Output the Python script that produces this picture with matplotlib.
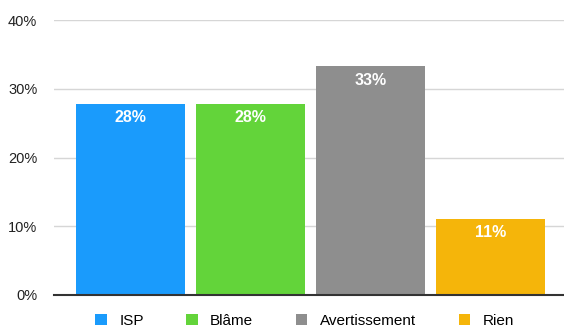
import matplotlib.pyplot as plt
import numpy as np

plt.rcParams['font.family'] = ['Liberation Sans', 'DejaVu Sans']

categories = ['ISP', 'Blâme', 'Avertissement', 'Rien']
values = [27.8, 27.8, 33.3, 11.1]
labels = ['28%', '28%', '33%', '11%']
colors = ['#1a9bfc', '#63d43a', '#8e8e8e', '#f5b50a']

fig = plt.figure(figsize=(5.64, 3.29), dpi=100)
ax = fig.add_axes([54 / 564, 34 / 329, 510 / 564, 275 / 329])

x = np.arange(len(categories))
bars = ax.bar(x, values, width=0.91, color=colors, label=categories, zorder=2)

for b, lab in zip(bars, labels):
    ax.annotate(lab, (b.get_x() + b.get_width() / 2, b.get_height()),
                xytext=(0, -14), textcoords='offset pixels',
                ha='center', va='center', color='white',
                fontsize=11.5, fontweight='bold')

ax.set_xlim(-0.6375, 3.6125)
ax.set_ylim(0, 40)
ax.set_yticks([0, 10, 20, 30, 40])
ax.set_yticklabels(['0%', '10%', '20%', '30%', '40%'], fontsize=10.5, color='#222222')
ax.set_xticks([])
ax.tick_params(axis='y', length=0, pad=12)
ax.yaxis.grid(True, color='#d6d6d6', linewidth=1, zorder=0)

for s in ['top', 'right', 'left']:
    ax.spines[s].set_visible(False)
ax.spines['bottom'].set_color('#333333')
ax.spines['bottom'].set_linewidth(1.5)
ax.spines['bottom'].set_zorder(3)

fig.legend(handles=bars, labels=categories, loc='center', bbox_to_anchor=(0.54, 0.025),
           ncol=4, frameon=False, fontsize=11, handlelength=0.75, handleheight=0.75,
           columnspacing=2.8, handletextpad=0.8)

fig.savefig('out.png', dpi=100)
